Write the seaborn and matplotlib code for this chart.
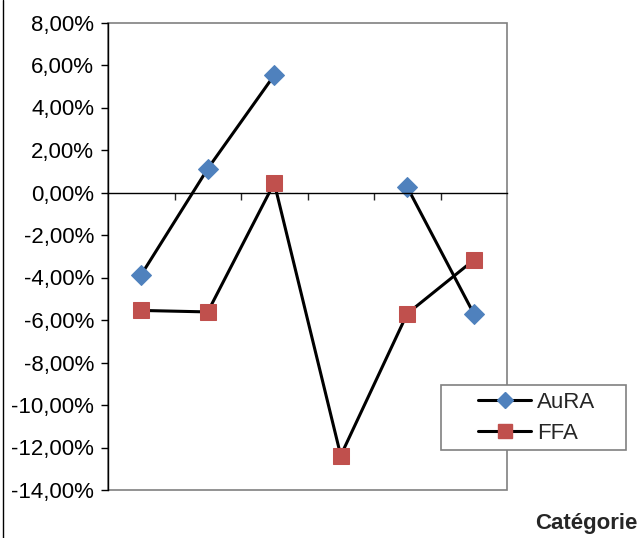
import matplotlib.pyplot as plt
import matplotlib.ticker as mticker
from matplotlib.lines import Line2D
from matplotlib.patches import Rectangle
import numpy as np
import pandas as pd
import seaborn as sns

# Data (percent)
categories = [1, 2, 3, 4, 5, 6]
aura = [-3.87, 1.12, 5.52, np.nan, 0.25, -5.70]
ffa = [-5.55, -5.62, 0.45, -12.38, -5.70, -3.18]
yticks = list(range(-14, 9, 2))

blue = '#4F81BD'
red = '#C0504D'
fs = 16

sns.set_style('white')
plt.rcParams['font.family'] = ['Liberation Sans', 'DejaVu Sans']
plt.rcParams['font.size'] = fs

df = pd.DataFrame({'cat': categories, 'AuRA': aura, 'FFA': ffa})
# break lines at missing values
df['seg_aura'] = df['AuRA'].isna().cumsum()
df['seg_ffa'] = df['FFA'].isna().cumsum()

fig = plt.figure(figsize=(6.43, 5.38), dpi=100)
ax = fig.add_axes([108 / 643, 1 - 490 / 538, 399 / 643, 467.5 / 538])

sns.lineplot(data=df.dropna(subset=['AuRA']), x='cat', y='AuRA', units='seg_aura', estimator=None,
             ax=ax, color='black', linewidth=2.2,
             marker='D', markersize=10, markerfacecolor=blue, markeredgecolor=blue)
sns.lineplot(data=df.dropna(subset=['FFA']), x='cat', y='FFA', units='seg_ffa', estimator=None,
             ax=ax, color='black', linewidth=2.2,
             marker='s', markersize=11, markerfacecolor=red, markeredgecolor=red)

ax.set_xlim(0.5, 6.5)
ax.set_ylim(-14, 8)
ax.set_yticks(yticks)
ax.yaxis.set_major_formatter(mticker.FuncFormatter(lambda v, p: f'{v:.2f}%'.replace('.', ',')))
ax.set_xticks([c + 0.5 for c in categories[:-1]])
ax.set_xticklabels([])
ax.set_xlabel('')
ax.set_ylabel('')

for s in ['top', 'right']:
    ax.spines[s].set_visible(False)
ax.spines['left'].set_color('black')
ax.spines['left'].set_linewidth(1.0)
ax.spines['bottom'].set_position(('data', 0))
ax.spines['bottom'].set_color('black')
ax.spines['bottom'].set_linewidth(1.0)
ax.tick_params(axis='y', direction='out', length=5, width=1, pad=5, left=True, colors='black', labelsize=fs)
ax.tick_params(axis='x', direction='out', length=5, width=1, bottom=True)

# plot-area border (grey)
ax.add_patch(Rectangle((0, 0), 1, 1, transform=ax.transAxes, fill=False,
                       edgecolor='#808080', linewidth=1.2, zorder=0, clip_on=False))

# legend with its own box
box = Rectangle((441 / 643, 1 - 450 / 538), 185 / 643, 65 / 538, transform=fig.transFigure,
                facecolor='white', edgecolor='#808080', linewidth=1.2)
fig.add_artist(box)
handles = [Line2D([], [], color='black', linewidth=2.2, marker='D', markersize=8,
                  markerfacecolor=blue, markeredgecolor=blue),
           Line2D([], [], color='black', linewidth=2.2, marker='s', markersize=10,
                  markerfacecolor=red, markeredgecolor=red)]
fig.legend(handles, ['AuRA', 'FFA'], loc='center left',
           bbox_to_anchor=(467 / 643, 1 - 418 / 538), frameon=False,
           handlelength=2.4, handletextpad=0.25, labelspacing=0.45,
           borderpad=0, fontsize=fs)

fig.text(637 / 643, 1 - 523 / 538, 'Catégorie', ha='right', va='center',
         fontsize=fs, fontweight='bold')
fig.add_artist(Line2D([3 / 643, 3 / 643], [0, 1], transform=fig.transFigure,
                      color='black', linewidth=1.0))

fig.savefig('out.png', dpi=100)
